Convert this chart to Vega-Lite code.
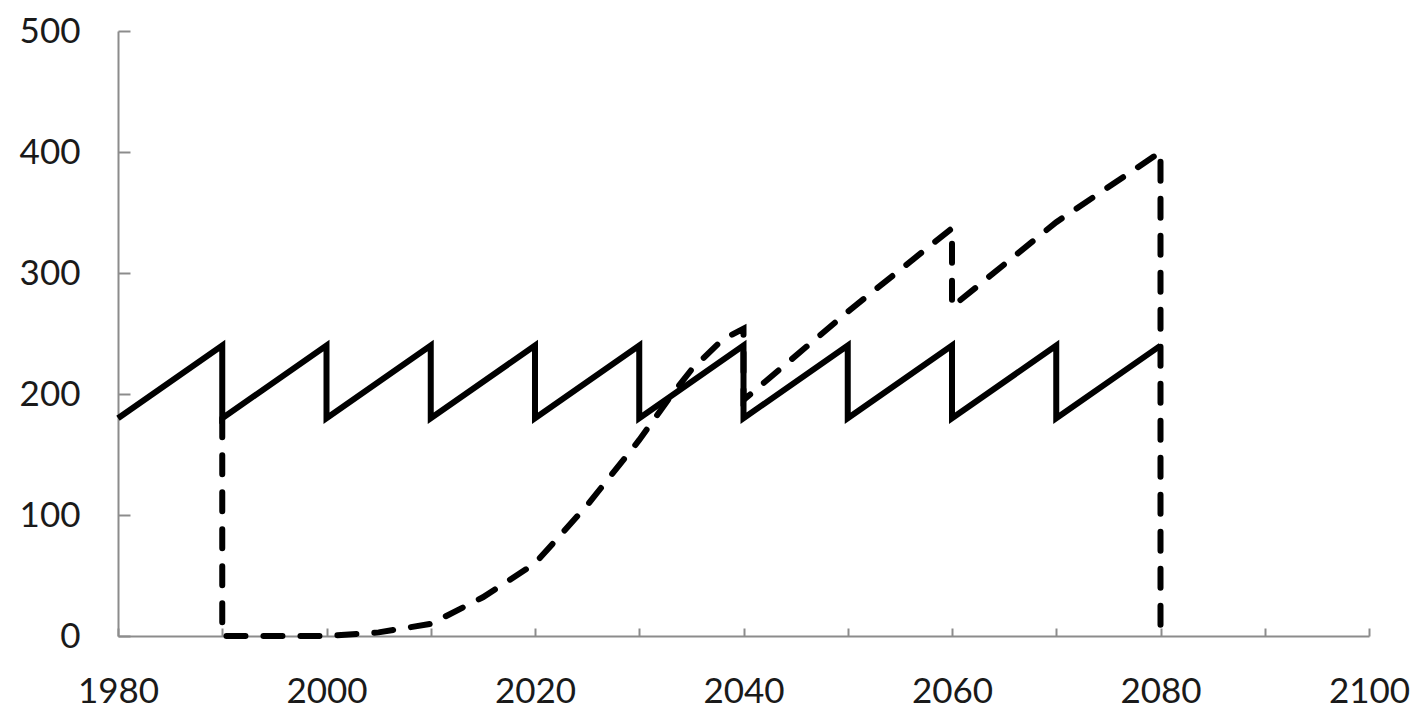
{
  "$schema": "https://vega.github.io/schema/vega-lite/v6.json",
  "width": 1251,
  "height": 605,
  "autosize": {"type": "none"},
  "padding": {"left": 118, "top": 31, "right": 49, "bottom": 75},
  "background": "white",
  "config": {"view": {"stroke": null}},
  "datasets": {
    "solid": [
      {"i": 1, "year": 1980, "value": 180},
      {"i": 2, "year": 1990, "value": 240},
      {"i": 3, "year": 1990, "value": 180},
      {"i": 4, "year": 2000, "value": 240},
      {"i": 5, "year": 2000, "value": 180},
      {"i": 6, "year": 2010, "value": 240},
      {"i": 7, "year": 2010, "value": 180},
      {"i": 8, "year": 2020, "value": 240},
      {"i": 9, "year": 2020, "value": 180},
      {"i": 10, "year": 2030, "value": 240},
      {"i": 11, "year": 2030, "value": 180},
      {"i": 12, "year": 2040, "value": 240},
      {"i": 13, "year": 2040, "value": 180},
      {"i": 14, "year": 2050, "value": 240},
      {"i": 15, "year": 2050, "value": 180},
      {"i": 16, "year": 2060, "value": 240},
      {"i": 17, "year": 2060, "value": 180},
      {"i": 18, "year": 2070, "value": 240},
      {"i": 19, "year": 2070, "value": 180},
      {"i": 20, "year": 2080, "value": 240}
    ],
    "dashed": [
      {"i": 1, "year": 1990, "value": 180},
      {"i": 2, "year": 1990, "value": 0},
      {"i": 3, "year": 2000, "value": 0},
      {"i": 4, "year": 2005, "value": 3},
      {"i": 5, "year": 2010, "value": 10},
      {"i": 6, "year": 2015, "value": 32},
      {"i": 7, "year": 2020, "value": 60},
      {"i": 8, "year": 2025, "value": 108},
      {"i": 9, "year": 2030, "value": 162},
      {"i": 10, "year": 2033, "value": 198},
      {"i": 11, "year": 2035, "value": 220},
      {"i": 12, "year": 2038, "value": 245},
      {"i": 13, "year": 2040, "value": 254},
      {"i": 14, "year": 2040, "value": 195},
      {"i": 15, "year": 2050, "value": 268},
      {"i": 16, "year": 2060, "value": 337},
      {"i": 17, "year": 2060, "value": 272},
      {"i": 18, "year": 2070, "value": 342},
      {"i": 19, "year": 2080, "value": 400},
      {"i": 20, "year": 2080, "value": 0}
    ]
  },
  "encoding": {
    "x": {
      "field": "year",
      "type": "quantitative",
      "scale": {"domain": [1980, 2100], "nice": false, "zero": false},
      "axis": {
        "title": null,
        "values": [1980, 1990, 2000, 2010, 2020, 2030, 2040, 2050, 2060, 2070, 2080, 2090, 2100],
        "labelExpr": "datum.value % 20 == 0 ? format(datum.value, 'd') : ''",
        "grid": false,
        "domainColor": "#8c8c8c",
        "domainWidth": 2,
        "tickColor": "#8c8c8c",
        "tickWidth": 2,
        "tickSize": -8,
        "labelFont": "Lato",
        "labelFontSize": 35,
        "labelColor": "#1a1a1a",
        "labelPadding": 46,
        "labelFlush": false,
        "labelOverlap": false
      }
    },
    "y": {
      "field": "value",
      "type": "quantitative",
      "scale": {"domain": [0, 500], "nice": false},
      "axis": {
        "title": null,
        "values": [0, 100, 200, 300, 400, 500],
        "grid": false,
        "domainColor": "#8c8c8c",
        "domainWidth": 2,
        "tickColor": "#8c8c8c",
        "tickWidth": 2,
        "tickSize": -12,
        "labelFont": "Lato",
        "labelFontSize": 35,
        "labelColor": "#1a1a1a",
        "labelPadding": 50,
        "labelFlush": false,
        "labelOverlap": false
      }
    },
    "order": {"field": "i", "type": "quantitative"}
  },
  "layer": [
    {
      "data": {"name": "solid"},
      "mark": {"type": "line", "color": "black", "strokeWidth": 6, "clip": false}
    },
    {
      "data": {"name": "dashed"},
      "mark": {"type": "line", "color": "black", "strokeWidth": 6, "strokeDash": [19, 18], "strokeCap": "round", "clip": false}
    }
  ]
}
